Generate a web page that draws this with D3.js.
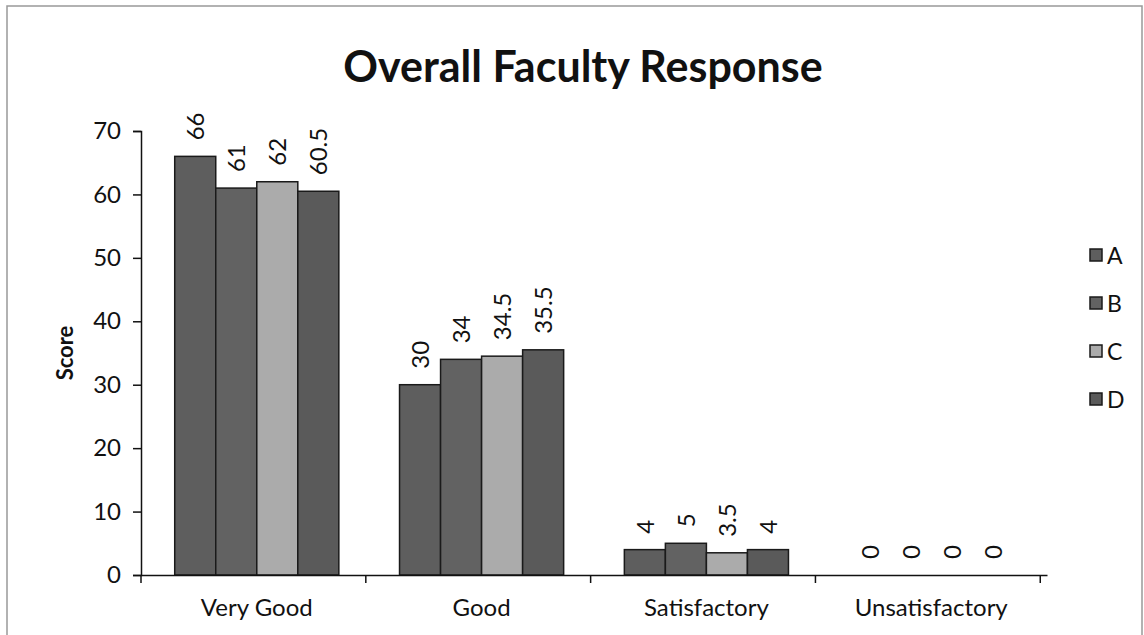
<!DOCTYPE html>
<html>
<head>
<meta charset="utf-8">
<script src="https://cdn.jsdelivr.net/npm/d3@7"></script>
<style>
  body { margin: 0; background: #fff; }
  text { font-family: Lato, "Open Sans", sans-serif; fill: #111; }
</style>
</head>
<body>
<div id="chart"></div>
<script>
const categories = ['Very Good', 'Good', 'Satisfactory', 'Unsatisfactory']
const seriesNames = ['A', 'B', 'C', 'D']
const valuesA = [66, 30, 4, 0]
const valuesB = [61, 34, 5, 0]
const valuesC = [62, 34.5, 3.5, 0]
const valuesD = [60.5, 35.5, 4, 0]
const labelsA = ['66', '30', '4', '0']
const labelsB = ['61', '34', '5', '0']
const labelsC = ['62', '34.5', '3.5', '0']
const labelsD = ['60.5', '35.5', '4', '0']
const yTicks = [0, 10, 20, 30, 40, 50, 60, 70]
const colors = ['#5e5e5e', '#626262', '#ababab', '#5a5a5a']

const series = [valuesA, valuesB, valuesC, valuesD]
const labels = [labelsA, labelsB, labelsC, labelsD]

const W = 1144, H = 635
const margin = { top: 131, right: 97, bottom: 60, left: 141 }
const width = W - margin.left - margin.right
const height = H - margin.top - margin.bottom

const svg = d3.select('#chart').append('svg')
    .attr('width', W)
    .attr('height', H)

// frame
svg.append('rect')
    .attr('x', 7).attr('y', 6)
    .attr('width', W - 9).attr('height', H - 4)
    .attr('fill', 'none')
    .attr('stroke', '#999')
    .attr('stroke-width', 1.5)

svg.append('text')
    .attr('x', 583)
    .attr('y', 82)
    .attr('text-anchor', 'middle')
    .attr('font-size', 43)
    .attr('font-weight', 'bold')
    .text('Overall Faculty Response')

const g = svg.append('g')
    .attr('transform', `translate(${margin.left},${margin.top})`)

const x0 = d3.scaleBand()
    .domain(categories)
    .range([0, width])
    .paddingInner(0.27)
    .paddingOuter(0.15)

const x1 = d3.scaleBand()
    .domain(seriesNames)
    .range([0, x0.bandwidth()])

const y = d3.scaleLinear()
    .domain([0, 70])
    .range([height, 0])

const rows = categories.map((c, i) => ({
    cat: c,
    bars: seriesNames.map((s, j) => ({ s: s, j: j, v: series[j][i], label: labels[j][i] }))
}))

const group = g.selectAll('.grp')
    .data(rows)
    .enter().append('g')
    .attr('class', 'grp')
    .attr('transform', (d) => `translate(${x0(d.cat)},0)`)

group.selectAll('rect')
    .data((d) => d.bars.filter((b) => b.v > 0))
    .enter().append('rect')
    .attr('x', (d) => x1(d.s))
    .attr('y', (d) => y(d.v))
    .attr('width', x1.bandwidth())
    .attr('height', (d) => height - y(d.v))
    .attr('fill', (d) => colors[d.j])
    .attr('stroke', '#1a1a1a')
    .attr('stroke-width', 1.5)

group.selectAll('.lbl')
    .data((d) => d.bars)
    .enter().append('text')
    .attr('class', 'lbl')
    .attr('font-size', 24)
    .attr('transform', (d) => `translate(${x1(d.s) + x1.bandwidth() / 2 + 9},${y(d.v) - 16}) rotate(-90)`)
    .text((d) => d.label)

// axes
const yAxis = g.append('g')
    .call(d3.axisLeft(y).tickValues(yTicks).tickSize(8).tickPadding(12))
yAxis.selectAll('text').attr('font-size', 24)
yAxis.select('.domain').attr('stroke', '#111').attr('stroke-width', 1.5)
yAxis.selectAll('.tick line').attr('stroke', '#111').attr('stroke-width', 1.5)

const xAxis = g.append('g')
    .attr('transform', `translate(0,${height})`)
    .call(d3.axisBottom(x0).tickSize(0).tickPadding(24))
xAxis.selectAll('text').attr('font-size', 24)
xAxis.select('.domain').attr('stroke', '#111').attr('stroke-width', 1.5)

// category boundary ticks
const bounds = d3.range(categories.length + 1).map((i) => i * x0.step())
xAxis.selectAll('.bound')
    .data(bounds)
    .enter().append('line')
    .attr('class', 'bound')
    .attr('x1', (d) => d).attr('x2', (d) => d)
    .attr('y1', 0).attr('y2', 8)
    .attr('stroke', '#111')
    .attr('stroke-width', 1.5)

svg.append('text')
    .attr('transform', `translate(73,${margin.top + height / 2}) rotate(-90)`)
    .attr('text-anchor', 'middle')
    .attr('font-size', 22)
    .attr('font-weight', 'bold')
    .text('Score')

// legend
const legend = svg.append('g')
    .attr('transform', 'translate(1090,255)')

const item = legend.selectAll('.item')
    .data(seriesNames)
    .enter().append('g')
    .attr('class', 'item')
    .attr('transform', (d, i) => `translate(0,${i * 48})`)

item.append('rect')
    .attr('x', 0).attr('y', -6)
    .attr('width', 12).attr('height', 12)
    .attr('fill', (d, i) => colors[i])
    .attr('stroke', '#1a1a1a')
    .attr('stroke-width', 1.5)

item.append('text')
    .attr('x', 17)
    .attr('y', 9)
    .attr('font-size', 23)
    .text((d) => d)
</script>
</body>
</html>
